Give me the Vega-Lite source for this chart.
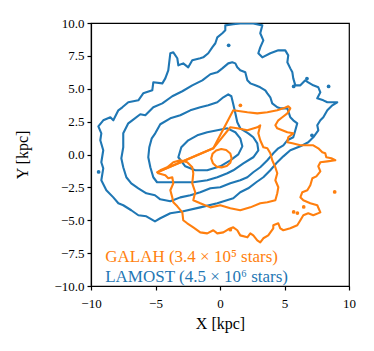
{
  "$schema": "https://vega.github.io/schema/vega-lite/v6.json",
  "autosize": {"type": "none"},
  "padding": {"left": 91, "top": 23, "right": 25, "bottom": 65},
  "width": 258,
  "height": 263,
  "background": "white",
  "config": {
    "view": {"stroke": "black", "strokeWidth": 1.2},
    "axis": {
      "labelFont": "Liberation Serif", "labelFontSize": 13, "labelColor": "black", "labelOverlap": false, "labelFlush": false,
      "titleFont": "Liberation Serif", "titleFontSize": 16, "titleFontWeight": "normal", "titleColor": "black",
      "tickColor": "black", "domainColor": "black", "tickSize": 4, "grid": false, "domainWidth": 1.2, "tickWidth": 1.2
    }
  },
  "datasets": {
    "lines": [
      {"c":"B1","s":"LAMOST","x":-5.04,"y":-5.08},{"c":"B1","s":"LAMOST","x":-5.71,"y":-4.70},{"c":"B1","s":"LAMOST","x":-6.33,"y":-4.62},{"c":"B1","s":"LAMOST","x":-6.88,"y":-4.24},{"c":"B1","s":"LAMOST","x":-7.50,"y":-3.86},{"c":"B1","s":"LAMOST","x":-7.88,"y":-3.71},{"c":"B1","s":"LAMOST","x":-8.27,"y":-3.26},{"c":"B1","s":"LAMOST","x":-8.81,"y":-2.72},{"c":"B1","s":"LAMOST","x":-9.20,"y":-1.96},{"c":"B1","s":"LAMOST","x":-9.05,"y":-1.05},{"c":"B1","s":"LAMOST","x":-9.20,"y":-0.59},{"c":"B1","s":"LAMOST","x":-9.05,"y":0.32},{"c":"B1","s":"LAMOST","x":-9.28,"y":1.08},{"c":"B1","s":"LAMOST","x":-9.20,"y":1.61},{"c":"B1","s":"LAMOST","x":-9.43,"y":2.14},{"c":"B1","s":"LAMOST","x":-9.05,"y":2.60},{"c":"B1","s":"LAMOST","x":-8.50,"y":2.83},{"c":"B1","s":"LAMOST","x":-8.27,"y":2.60},{"c":"B1","s":"LAMOST","x":-7.88,"y":3.36},{"c":"B1","s":"LAMOST","x":-7.57,"y":3.59},{"c":"B1","s":"LAMOST","x":-7.11,"y":3.97},{"c":"B1","s":"LAMOST","x":-6.33,"y":4.12},{"c":"B1","s":"LAMOST","x":-5.95,"y":4.65},{"c":"B1","s":"LAMOST","x":-5.25,"y":4.88},{"c":"B1","s":"LAMOST","x":-5.17,"y":5.49},{"c":"B1","s":"LAMOST","x":-4.47,"y":5.41},{"c":"B1","s":"LAMOST","x":-4.24,"y":5.79},{"c":"B1","s":"LAMOST","x":-4.01,"y":6.40},{"c":"B1","s":"LAMOST","x":-3.85,"y":7.70},{"c":"B1","s":"LAMOST","x":-3.62,"y":7.77},{"c":"B1","s":"LAMOST","x":-3.31,"y":7.32},{"c":"B1","s":"LAMOST","x":-3.23,"y":6.78},{"c":"B1","s":"LAMOST","x":-2.85,"y":6.93},{"c":"B1","s":"LAMOST","x":-2.46,"y":6.63},{"c":"B1","s":"LAMOST","x":-2.15,"y":7.16},{"c":"B1","s":"LAMOST","x":-1.53,"y":7.32},{"c":"B1","s":"LAMOST","x":-1.30,"y":7.39},{"c":"B1","s":"LAMOST","x":-0.91,"y":7.70},{"c":"B1","s":"LAMOST","x":-0.60,"y":8.15},{"c":"B1","s":"LAMOST","x":-0.36,"y":8.46},{"c":"B1","s":"LAMOST","x":-0.21,"y":8.91},{"c":"B1","s":"LAMOST","x":0.18,"y":9.22},{"c":"B1","s":"LAMOST","x":0.41,"y":9.44},{"c":"B1","s":"LAMOST","x":0.41,"y":9.82},{"c":"B1","s":"LAMOST","x":1.03,"y":9.90},{"c":"B1","s":"LAMOST","x":1.57,"y":9.96},{"c":"B1","s":"LAMOST","x":2.58,"y":9.96},{"c":"B1","s":"LAMOST","x":3.28,"y":9.82},{"c":"B1","s":"LAMOST","x":3.12,"y":9.22},{"c":"B1","s":"LAMOST","x":3.36,"y":8.68},{"c":"B1","s":"LAMOST","x":3.12,"y":8.15},{"c":"B1","s":"LAMOST","x":2.97,"y":7.70},{"c":"B1","s":"LAMOST","x":3.28,"y":7.39},{"c":"B1","s":"LAMOST","x":3.90,"y":7.70},{"c":"B1","s":"LAMOST","x":4.52,"y":7.92},{"c":"B1","s":"LAMOST","x":5.06,"y":7.92},{"c":"B1","s":"LAMOST","x":5.29,"y":7.54},{"c":"B1","s":"LAMOST","x":5.22,"y":7.01},{"c":"B1","s":"LAMOST","x":5.45,"y":6.55},{"c":"B1","s":"LAMOST","x":5.61,"y":6.25},{"c":"B1","s":"LAMOST","x":5.68,"y":5.79},{"c":"B1","s":"LAMOST","x":5.84,"y":5.26},{"c":"B1","s":"LAMOST","x":6.23,"y":5.26},{"c":"B1","s":"LAMOST","x":6.61,"y":5.64},{"c":"B1","s":"LAMOST","x":6.84,"y":5.49},{"c":"B1","s":"LAMOST","x":7.23,"y":5.26},{"c":"B1","s":"LAMOST","x":7.62,"y":5.11},{"c":"B1","s":"LAMOST","x":7.78,"y":4.73},{"c":"B1","s":"LAMOST","x":7.54,"y":4.27},{"c":"B1","s":"LAMOST","x":8.01,"y":4.12},{"c":"B1","s":"LAMOST","x":8.32,"y":3.97},{"c":"B1","s":"LAMOST","x":8.78,"y":3.97},{"c":"B1","s":"LAMOST","x":9.09,"y":3.97},{"c":"B1","s":"LAMOST","x":8.71,"y":3.74},{"c":"B1","s":"LAMOST","x":8.32,"y":3.36},{"c":"B1","s":"LAMOST","x":8.01,"y":2.83},{"c":"B1","s":"LAMOST","x":7.78,"y":2.60},{"c":"B1","s":"LAMOST","x":7.54,"y":2.22},{"c":"B1","s":"LAMOST","x":7.62,"y":1.84},{"c":"B1","s":"LAMOST","x":7.23,"y":1.31},{"c":"B1","s":"LAMOST","x":6.84,"y":0.93},{"c":"B1","s":"LAMOST","x":6.23,"y":0.62},{"c":"B1","s":"LAMOST","x":5.45,"y":0.32},{"c":"B1","s":"LAMOST","x":4.91,"y":-0.14},{"c":"B1","s":"LAMOST","x":4.36,"y":-0.67},{"c":"B1","s":"LAMOST","x":3.90,"y":-1.20},{"c":"B1","s":"LAMOST","x":3.36,"y":-1.73},{"c":"B1","s":"LAMOST","x":2.81,"y":-2.11},{"c":"B1","s":"LAMOST","x":2.19,"y":-2.57},{"c":"B1","s":"LAMOST","x":1.57,"y":-2.87},{"c":"B1","s":"LAMOST","x":1.03,"y":-3.33},{"c":"B1","s":"LAMOST","x":-0.21,"y":-3.71},{"c":"B1","s":"LAMOST","x":-1.53,"y":-4.02},{"c":"B1","s":"LAMOST","x":-2.85,"y":-4.32},{"c":"B1","s":"LAMOST","x":-3.85,"y":-4.47},{"c":"B1","s":"LAMOST","x":-4.63,"y":-4.85},{"c":"B1","s":"LAMOST","x":-5.04,"y":-5.08},

      {"c":"B2","s":"LAMOST","x":-5.04,"y":-3.10},{"c":"B2","s":"LAMOST","x":-5.71,"y":-2.95},{"c":"B2","s":"LAMOST","x":-6.33,"y":-2.57},{"c":"B2","s":"LAMOST","x":-6.88,"y":-2.19},{"c":"B2","s":"LAMOST","x":-7.26,"y":-1.73},{"c":"B2","s":"LAMOST","x":-7.50,"y":-0.97},{"c":"B2","s":"LAMOST","x":-7.65,"y":-0.29},{"c":"B2","s":"LAMOST","x":-7.50,"y":0.55},{"c":"B2","s":"LAMOST","x":-7.50,"y":1.61},{"c":"B2","s":"LAMOST","x":-7.11,"y":2.37},{"c":"B2","s":"LAMOST","x":-6.80,"y":2.60},{"c":"B2","s":"LAMOST","x":-6.18,"y":3.06},{"c":"B2","s":"LAMOST","x":-5.79,"y":2.98},{"c":"B2","s":"LAMOST","x":-5.17,"y":3.59},{"c":"B2","s":"LAMOST","x":-4.47,"y":3.89},{"c":"B2","s":"LAMOST","x":-3.70,"y":4.43},{"c":"B2","s":"LAMOST","x":-2.92,"y":4.81},{"c":"B2","s":"LAMOST","x":-2.15,"y":5.26},{"c":"B2","s":"LAMOST","x":-1.37,"y":5.64},{"c":"B2","s":"LAMOST","x":-0.75,"y":6.10},{"c":"B2","s":"LAMOST","x":-0.21,"y":6.25},{"c":"B2","s":"LAMOST","x":0.18,"y":6.55},{"c":"B2","s":"LAMOST","x":0.64,"y":6.93},{"c":"B2","s":"LAMOST","x":0.95,"y":7.01},{"c":"B2","s":"LAMOST","x":1.19,"y":6.93},{"c":"B2","s":"LAMOST","x":1.34,"y":6.63},{"c":"B2","s":"LAMOST","x":1.57,"y":6.40},{"c":"B2","s":"LAMOST","x":1.96,"y":6.25},{"c":"B2","s":"LAMOST","x":2.12,"y":5.64},{"c":"B2","s":"LAMOST","x":2.35,"y":5.41},{"c":"B2","s":"LAMOST","x":2.74,"y":5.26},{"c":"B2","s":"LAMOST","x":3.12,"y":5.11},{"c":"B2","s":"LAMOST","x":3.51,"y":4.88},{"c":"B2","s":"LAMOST","x":3.67,"y":4.65},{"c":"B2","s":"LAMOST","x":3.90,"y":4.35},{"c":"B2","s":"LAMOST","x":4.05,"y":3.89},{"c":"B2","s":"LAMOST","x":4.44,"y":3.59},{"c":"B2","s":"LAMOST","x":4.67,"y":3.51},{"c":"B2","s":"LAMOST","x":5.22,"y":3.51},{"c":"B2","s":"LAMOST","x":5.45,"y":2.83},{"c":"B2","s":"LAMOST","x":5.68,"y":2.60},{"c":"B2","s":"LAMOST","x":5.99,"y":2.37},{"c":"B2","s":"LAMOST","x":5.84,"y":1.84},{"c":"B2","s":"LAMOST","x":5.68,"y":1.31},{"c":"B2","s":"LAMOST","x":5.22,"y":1.08},{"c":"B2","s":"LAMOST","x":4.91,"y":0.70},{"c":"B2","s":"LAMOST","x":4.52,"y":0.47},{"c":"B2","s":"LAMOST","x":4.13,"y":0.09},{"c":"B2","s":"LAMOST","x":3.67,"y":-0.44},{"c":"B2","s":"LAMOST","x":3.12,"y":-0.97},{"c":"B2","s":"LAMOST","x":2.58,"y":-1.35},{"c":"B2","s":"LAMOST","x":2.12,"y":-1.73},{"c":"B2","s":"LAMOST","x":1.57,"y":-1.96},{"c":"B2","s":"LAMOST","x":0.80,"y":-2.19},{"c":"B2","s":"LAMOST","x":0.02,"y":-2.49},{"c":"B2","s":"LAMOST","x":-0.75,"y":-2.57},{"c":"B2","s":"LAMOST","x":-1.53,"y":-2.87},{"c":"B2","s":"LAMOST","x":-2.30,"y":-3.10},{"c":"B2","s":"LAMOST","x":-3.08,"y":-3.26},{"c":"B2","s":"LAMOST","x":-3.85,"y":-3.56},{"c":"B2","s":"LAMOST","x":-4.63,"y":-3.41},{"c":"B2","s":"LAMOST","x":-5.04,"y":-3.10},

      {"c":"B3","s":"LAMOST","x":-4.88,"y":-2.11},{"c":"B3","s":"LAMOST","x":-5.17,"y":-1.73},{"c":"B3","s":"LAMOST","x":-5.40,"y":-0.97},{"c":"B3","s":"LAMOST","x":-5.56,"y":-0.21},{"c":"B3","s":"LAMOST","x":-5.48,"y":0.55},{"c":"B3","s":"LAMOST","x":-5.29,"y":1.23},{"c":"B3","s":"LAMOST","x":-5.02,"y":1.61},{"c":"B3","s":"LAMOST","x":-4.63,"y":2.30},{"c":"B3","s":"LAMOST","x":-3.85,"y":2.75},{"c":"B3","s":"LAMOST","x":-3.08,"y":2.98},{"c":"B3","s":"LAMOST","x":-2.30,"y":3.36},{"c":"B3","s":"LAMOST","x":-1.53,"y":3.59},{"c":"B3","s":"LAMOST","x":-0.91,"y":3.74},{"c":"B3","s":"LAMOST","x":-0.21,"y":3.97},{"c":"B3","s":"LAMOST","x":0.26,"y":4.35},{"c":"B3","s":"LAMOST","x":0.64,"y":4.58},{"c":"B3","s":"LAMOST","x":0.88,"y":4.43},{"c":"B3","s":"LAMOST","x":1.03,"y":3.82},{"c":"B3","s":"LAMOST","x":1.19,"y":3.13},{"c":"B3","s":"LAMOST","x":1.34,"y":2.45},{"c":"B3","s":"LAMOST","x":1.57,"y":1.99},{"c":"B3","s":"LAMOST","x":2.19,"y":1.61},{"c":"B3","s":"LAMOST","x":2.58,"y":1.31},{"c":"B3","s":"LAMOST","x":2.89,"y":0.85},{"c":"B3","s":"LAMOST","x":2.97,"y":0.32},{"c":"B3","s":"LAMOST","x":2.58,"y":-0.21},{"c":"B3","s":"LAMOST","x":1.81,"y":-0.67},{"c":"B3","s":"LAMOST","x":1.03,"y":-1.20},{"c":"B3","s":"LAMOST","x":0.57,"y":-1.43},{"c":"B3","s":"LAMOST","x":-0.21,"y":-1.73},{"c":"B3","s":"LAMOST","x":-0.99,"y":-1.96},{"c":"B3","s":"LAMOST","x":-2.07,"y":-2.11},{"c":"B3","s":"LAMOST","x":-3.08,"y":-2.11},{"c":"B3","s":"LAMOST","x":-4.09,"y":-2.11},{"c":"B3","s":"LAMOST","x":-4.88,"y":-2.11},

      {"c":"B4","s":"LAMOST","x":-3.23,"y":-0.21},{"c":"B4","s":"LAMOST","x":-3.00,"y":0.55},{"c":"B4","s":"LAMOST","x":-2.46,"y":1.08},{"c":"B4","s":"LAMOST","x":-1.76,"y":1.46},{"c":"B4","s":"LAMOST","x":-0.99,"y":1.69},{"c":"B4","s":"LAMOST","x":-0.21,"y":1.84},{"c":"B4","s":"LAMOST","x":0.57,"y":1.99},{"c":"B4","s":"LAMOST","x":1.19,"y":1.69},{"c":"B4","s":"LAMOST","x":1.57,"y":1.23},{"c":"B4","s":"LAMOST","x":1.73,"y":0.62},{"c":"B4","s":"LAMOST","x":1.42,"y":0.01},{"c":"B4","s":"LAMOST","x":0.80,"y":-0.44},{"c":"B4","s":"LAMOST","x":0.02,"y":-0.90},{"c":"B4","s":"LAMOST","x":-0.99,"y":-1.20},{"c":"B4","s":"LAMOST","x":-1.92,"y":-1.20},{"c":"B4","s":"LAMOST","x":-2.69,"y":-0.90},{"c":"B4","s":"LAMOST","x":-3.23,"y":-0.21},

      {"c":"O1","s":"GALAH","x":-0.52,"y":0.47},{"c":"O1","s":"GALAH","x":1.03,"y":3.36},{"c":"O1","s":"GALAH","x":1.57,"y":3.29},{"c":"O1","s":"GALAH","x":2.12,"y":3.21},{"c":"O1","s":"GALAH","x":2.89,"y":3.13},{"c":"O1","s":"GALAH","x":3.67,"y":3.21},{"c":"O1","s":"GALAH","x":4.44,"y":3.36},{"c":"O1","s":"GALAH","x":4.91,"y":3.51},{"c":"O1","s":"GALAH","x":5.29,"y":3.67},{"c":"O1","s":"GALAH","x":5.45,"y":3.51},{"c":"O1","s":"GALAH","x":5.22,"y":3.13},{"c":"O1","s":"GALAH","x":4.83,"y":2.83},{"c":"O1","s":"GALAH","x":4.52,"y":2.60},{"c":"O1","s":"GALAH","x":4.29,"y":2.22},{"c":"O1","s":"GALAH","x":4.44,"y":1.99},{"c":"O1","s":"GALAH","x":4.83,"y":1.84},{"c":"O1","s":"GALAH","x":5.22,"y":1.69},{"c":"O1","s":"GALAH","x":5.68,"y":1.61},{"c":"O1","s":"GALAH","x":5.29,"y":1.31},{"c":"O1","s":"GALAH","x":5.22,"y":0.93},{"c":"O1","s":"GALAH","x":5.61,"y":0.85},{"c":"O1","s":"GALAH","x":6.23,"y":0.70},{"c":"O1","s":"GALAH","x":6.77,"y":0.70},{"c":"O1","s":"GALAH","x":7.23,"y":0.70},{"c":"O1","s":"GALAH","x":7.62,"y":0.47},{"c":"O1","s":"GALAH","x":7.93,"y":0.17},{"c":"O1","s":"GALAH","x":8.16,"y":0.09},{"c":"O1","s":"GALAH","x":8.24,"y":-0.21},{"c":"O1","s":"GALAH","x":8.63,"y":-0.29},{"c":"O1","s":"GALAH","x":8.94,"y":-0.44},{"c":"O1","s":"GALAH","x":8.32,"y":-0.52},{"c":"O1","s":"GALAH","x":7.78,"y":-0.59},{"c":"O1","s":"GALAH","x":7.62,"y":-0.90},{"c":"O1","s":"GALAH","x":7.78,"y":-1.28},{"c":"O1","s":"GALAH","x":7.47,"y":-1.66},{"c":"O1","s":"GALAH","x":7.16,"y":-1.81},{"c":"O1","s":"GALAH","x":7.00,"y":-2.34},{"c":"O1","s":"GALAH","x":6.77,"y":-2.72},{"c":"O1","s":"GALAH","x":6.38,"y":-2.87},{"c":"O1","s":"GALAH","x":6.23,"y":-3.26},{"c":"O1","s":"GALAH","x":6.46,"y":-3.48},{"c":"O1","s":"GALAH","x":7.00,"y":-3.71},{"c":"O1","s":"GALAH","x":7.54,"y":-3.86},{"c":"O1","s":"GALAH","x":7.78,"y":-4.40},{"c":"O1","s":"GALAH","x":7.23,"y":-4.62},{"c":"O1","s":"GALAH","x":6.84,"y":-4.47},{"c":"O1","s":"GALAH","x":6.46,"y":-4.62},{"c":"O1","s":"GALAH","x":6.23,"y":-5.00},{"c":"O1","s":"GALAH","x":5.99,"y":-5.38},{"c":"O1","s":"GALAH","x":5.45,"y":-5.61},{"c":"O1","s":"GALAH","x":4.91,"y":-5.76},{"c":"O1","s":"GALAH","x":4.67,"y":-5.61},{"c":"O1","s":"GALAH","x":4.52,"y":-5.23},{"c":"O1","s":"GALAH","x":4.13,"y":-5.38},{"c":"O1","s":"GALAH","x":4.13,"y":-5.61},{"c":"O1","s":"GALAH","x":3.74,"y":-6.15},{"c":"O1","s":"GALAH","x":3.36,"y":-6.37},{"c":"O1","s":"GALAH","x":3.12,"y":-6.68},{"c":"O1","s":"GALAH","x":2.89,"y":-6.53},{"c":"O1","s":"GALAH","x":2.58,"y":-6.15},{"c":"O1","s":"GALAH","x":2.35,"y":-6.00},{"c":"O1","s":"GALAH","x":2.12,"y":-6.30},{"c":"O1","s":"GALAH","x":1.57,"y":-6.15},{"c":"O1","s":"GALAH","x":1.34,"y":-5.76},{"c":"O1","s":"GALAH","x":1.03,"y":-5.54},{"c":"O1","s":"GALAH","x":0.64,"y":-5.69},{"c":"O1","s":"GALAH","x":0.26,"y":-5.92},{"c":"O1","s":"GALAH","x":-0.21,"y":-6.00},{"c":"O1","s":"GALAH","x":-0.52,"y":-5.76},{"c":"O1","s":"GALAH","x":-0.99,"y":-6.00},{"c":"O1","s":"GALAH","x":-1.53,"y":-5.92},{"c":"O1","s":"GALAH","x":-2.07,"y":-5.54},{"c":"O1","s":"GALAH","x":-2.54,"y":-5.23},{"c":"O1","s":"GALAH","x":-2.85,"y":-5.00},{"c":"O1","s":"GALAH","x":-2.92,"y":-4.40},{"c":"O1","s":"GALAH","x":-3.31,"y":-3.94},{"c":"O1","s":"GALAH","x":-3.62,"y":-3.63},{"c":"O1","s":"GALAH","x":-3.70,"y":-3.26},{"c":"O1","s":"GALAH","x":-3.85,"y":-2.72},{"c":"O1","s":"GALAH","x":-3.62,"y":-2.19},{"c":"O1","s":"GALAH","x":-3.70,"y":-1.73},{"c":"O1","s":"GALAH","x":-4.01,"y":-1.81},{"c":"O1","s":"GALAH","x":-4.24,"y":-1.58},{"c":"O1","s":"GALAH","x":-4.79,"y":-1.43},{"c":"O1","s":"GALAH","x":-4.86,"y":-1.35},{"c":"O1","s":"GALAH","x":-0.52,"y":0.47},

      {"c":"O2","s":"GALAH","x":-0.52,"y":0.47},{"c":"O2","s":"GALAH","x":0.80,"y":2.07},{"c":"O2","s":"GALAH","x":1.34,"y":1.99},{"c":"O2","s":"GALAH","x":2.12,"y":1.84},{"c":"O2","s":"GALAH","x":2.89,"y":2.07},{"c":"O2","s":"GALAH","x":3.12,"y":2.22},{"c":"O2","s":"GALAH","x":2.97,"y":1.61},{"c":"O2","s":"GALAH","x":3.12,"y":1.08},{"c":"O2","s":"GALAH","x":3.36,"y":0.55},{"c":"O2","s":"GALAH","x":3.67,"y":0.47},{"c":"O2","s":"GALAH","x":3.90,"y":0.09},{"c":"O2","s":"GALAH","x":4.05,"y":-0.44},{"c":"O2","s":"GALAH","x":4.29,"y":-0.97},{"c":"O2","s":"GALAH","x":4.44,"y":-1.43},{"c":"O2","s":"GALAH","x":4.29,"y":-1.96},{"c":"O2","s":"GALAH","x":4.52,"y":-2.49},{"c":"O2","s":"GALAH","x":4.44,"y":-2.95},{"c":"O2","s":"GALAH","x":4.29,"y":-3.48},{"c":"O2","s":"GALAH","x":3.67,"y":-3.63},{"c":"O2","s":"GALAH","x":3.12,"y":-3.71},{"c":"O2","s":"GALAH","x":2.35,"y":-4.02},{"c":"O2","s":"GALAH","x":1.57,"y":-4.24},{"c":"O2","s":"GALAH","x":0.80,"y":-4.09},{"c":"O2","s":"GALAH","x":0.02,"y":-3.86},{"c":"O2","s":"GALAH","x":-0.75,"y":-4.02},{"c":"O2","s":"GALAH","x":-1.53,"y":-3.71},{"c":"O2","s":"GALAH","x":-2.07,"y":-3.48},{"c":"O2","s":"GALAH","x":-1.92,"y":-2.87},{"c":"O2","s":"GALAH","x":-2.15,"y":-2.19},{"c":"O2","s":"GALAH","x":-2.07,"y":-1.43},{"c":"O2","s":"GALAH","x":-2.15,"y":-0.97},{"c":"O2","s":"GALAH","x":-2.54,"y":-0.59},{"c":"O2","s":"GALAH","x":-3.08,"y":-0.44},{"c":"O2","s":"GALAH","x":-3.62,"y":-0.59},{"c":"O2","s":"GALAH","x":-4.09,"y":-0.97},{"c":"O2","s":"GALAH","x":-4.63,"y":-1.20},{"c":"O2","s":"GALAH","x":-4.86,"y":-1.35},{"c":"O2","s":"GALAH","x":-0.52,"y":0.47},

      {"c":"O3","s":"GALAH","x":0.90,"y":-0.29},{"c":"O3","s":"GALAH","x":0.80,"y":0.08},{"c":"O3","s":"GALAH","x":0.48,"y":0.34},{"c":"O3","s":"GALAH","x":0.10,"y":0.42},{"c":"O3","s":"GALAH","x":-0.30,"y":0.30},{"c":"O3","s":"GALAH","x":-0.58,"y":0.05},{"c":"O3","s":"GALAH","x":-0.68,"y":-0.30},{"c":"O3","s":"GALAH","x":-0.55,"y":-0.66},{"c":"O3","s":"GALAH","x":-0.28,"y":-0.92},{"c":"O3","s":"GALAH","x":0.12,"y":-0.98},{"c":"O3","s":"GALAH","x":0.52,"y":-0.88},{"c":"O3","s":"GALAH","x":0.80,"y":-0.62},{"c":"O3","s":"GALAH","x":0.90,"y":-0.29}
    ],
    "dots": [
      {"s":"LAMOST","x":0.67,"y":8.30},{"s":"LAMOST","x":-9.41,"y":-1.33},{"s":"LAMOST","x":6.74,"y":5.77},{"s":"LAMOST","x":8.42,"y":5.18},{"s":"LAMOST","x":5.71,"y":5.18},{"s":"LAMOST","x":7.13,"y":1.46},
      {"s":"GALAH","x":8.89,"y":-2.85},{"s":"GALAH","x":5.71,"y":-4.37},{"s":"GALAH","x":6.00,"y":-4.45},{"s":"GALAH","x":6.49,"y":-3.99},{"s":"GALAH","x":0.80,"y":-5.72},{"s":"GALAH","x":1.58,"y":3.74}
    ],
    "labels": [
      {"s":"GALAH","label":"GALAH (3.4 × 10⁵ stars)"},
      {"s":"LAMOST","label":"LAMOST (4.5 × 10⁶ stars)"}
    ]
  },
  "layer": [
    {"data": {"name": "lines"}, "transform": [{"filter": "datum.s == 'LAMOST'"}],
     "mark": {"type": "line", "color": "#1f77b4", "strokeWidth": 2.1, "clip": true, "strokeJoin": "round", "strokeCap": "round"},
     "encoding": {
       "x": {"field": "x", "type": "quantitative", "scale": {"domain": [-10, 10], "nice": false, "zero": false},
         "axis": {"title": "X [kpc]", "values": [-10, -5, 0, 5, 10], "format": "d", "labelPadding": 7, "titlePadding": 5}},
       "y": {"field": "y", "type": "quantitative", "scale": {"domain": [-10, 10], "nice": false, "zero": false},
         "axis": {"title": "Y [kpc]", "values": [-10, -7.5, -5, -2.5, 0, 2.5, 5, 7.5, 10], "format": ".1f", "labelPadding": 3, "titlePadding": 23}},
       "detail": {"field": "c"}, "order": {"value": null}}},
    {"data": {"name": "dots"}, "transform": [{"filter": "datum.s == 'LAMOST'"}],
     "mark": {"type": "point", "filled": true, "color": "#1f77b4", "size": 14, "opacity": 1, "clip": true},
     "encoding": {
       "x": {"field": "x", "type": "quantitative", "axis": {"title": "X [kpc]", "values": [-10, -5, 0, 5, 10], "format": "d", "labelPadding": 7, "titlePadding": 5}},
       "y": {"field": "y", "type": "quantitative", "axis": {"title": "Y [kpc]", "values": [-10, -7.5, -5, -2.5, 0, 2.5, 5, 7.5, 10], "format": ".1f", "labelPadding": 3, "titlePadding": 23}}}},
    {"data": {"name": "lines"}, "transform": [{"filter": "datum.s == 'GALAH'"}],
     "mark": {"type": "line", "color": "#ff7f0e", "strokeWidth": 2.1, "clip": true, "strokeJoin": "round", "strokeCap": "round"},
     "encoding": {
       "x": {"field": "x", "type": "quantitative", "axis": {"title": "X [kpc]", "values": [-10, -5, 0, 5, 10], "format": "d", "labelPadding": 7, "titlePadding": 5}},
       "y": {"field": "y", "type": "quantitative", "axis": {"title": "Y [kpc]", "values": [-10, -7.5, -5, -2.5, 0, 2.5, 5, 7.5, 10], "format": ".1f", "labelPadding": 3, "titlePadding": 23}},
       "detail": {"field": "c"}, "order": {"value": null}}},
    {"data": {"name": "dots"}, "transform": [{"filter": "datum.s == 'GALAH'"}],
     "mark": {"type": "point", "filled": true, "color": "#ff7f0e", "size": 14, "opacity": 1, "clip": true},
     "encoding": {
       "x": {"field": "x", "type": "quantitative", "axis": {"title": "X [kpc]", "values": [-10, -5, 0, 5, 10], "format": "d", "labelPadding": 7, "titlePadding": 5}},
       "y": {"field": "y", "type": "quantitative", "axis": {"title": "Y [kpc]", "values": [-10, -7.5, -5, -2.5, 0, 2.5, 5, 7.5, 10], "format": ".1f", "labelPadding": 3, "titlePadding": 23}}}},
    {"data": {"name": "labels"}, "transform": [{"filter": "datum.s == 'GALAH'"}],
     "mark": {"type": "text", "align": "left", "baseline": "middle", "font": "Liberation Serif", "fontSize": 17, "fill": "#ff7f0e"},
     "encoding": {
       "x": {"datum": -8.9, "type": "quantitative", "axis": {"title": "X [kpc]", "values": [-10, -5, 0, 5, 10], "format": "d", "labelPadding": 7, "titlePadding": 5}},
       "y": {"datum": -7.8, "type": "quantitative", "axis": {"title": "Y [kpc]", "values": [-10, -7.5, -5, -2.5, 0, 2.5, 5, 7.5, 10], "format": ".1f", "labelPadding": 3, "titlePadding": 23}},
       "text": {"field": "label"}}},
    {"data": {"name": "labels"}, "transform": [{"filter": "datum.s == 'LAMOST'"}],
     "mark": {"type": "text", "align": "left", "baseline": "middle", "font": "Liberation Serif", "fontSize": 17, "fill": "#1f77b4"},
     "encoding": {
       "x": {"datum": -8.9, "type": "quantitative", "axis": {"title": "X [kpc]", "values": [-10, -5, 0, 5, 10], "format": "d", "labelPadding": 7, "titlePadding": 5}},
       "y": {"datum": -9.3, "type": "quantitative", "axis": {"title": "Y [kpc]", "values": [-10, -7.5, -5, -2.5, 0, 2.5, 5, 7.5, 10], "format": ".1f", "labelPadding": 3, "titlePadding": 23}},
       "text": {"field": "label"}}}
  ]
}
